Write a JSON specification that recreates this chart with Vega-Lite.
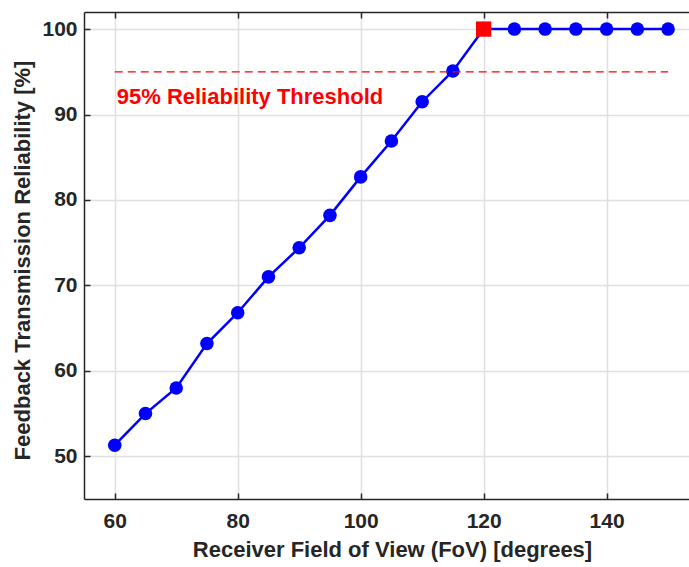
{
  "$schema": "https://vega.github.io/schema/vega-lite/v6.json",
  "width": 605,
  "height": 487,
  "autosize": "none",
  "padding": {"left": 84, "top": 12, "right": 0, "bottom": 68},
  "background": "white",
  "config": {
    "view": {"stroke": null},
    "font": "Liberation Sans"
  },
  "datasets": {
    "rel": [
      {"fov": 60, "reliability": 51.3},
      {"fov": 65, "reliability": 55.0},
      {"fov": 70, "reliability": 58.0},
      {"fov": 75, "reliability": 63.2},
      {"fov": 80, "reliability": 66.8},
      {"fov": 85, "reliability": 71.0},
      {"fov": 90, "reliability": 74.4},
      {"fov": 95, "reliability": 78.2},
      {"fov": 100, "reliability": 82.7},
      {"fov": 105, "reliability": 86.9},
      {"fov": 110, "reliability": 91.5},
      {"fov": 115, "reliability": 95.1},
      {"fov": 120, "reliability": 100},
      {"fov": 125, "reliability": 100},
      {"fov": 130, "reliability": 100},
      {"fov": 135, "reliability": 100},
      {"fov": 140, "reliability": 100},
      {"fov": 145, "reliability": 100},
      {"fov": 150, "reliability": 100}
    ],
    "thr": [
      {"fov_start": 60, "fov_end": 150, "threshold": 95, "label": "95% Reliability Threshold", "label_y": 92}
    ]
  },
  "layer": [
    {
      "data": {"name": "rel"},
      "mark": {"type": "line", "color": "#0000ff", "strokeWidth": 2.5},
      "encoding": {
        "x": {
          "field": "fov", "type": "quantitative",
          "scale": {"domain": [55, 153.4], "nice": false, "zero": false},
          "axis": {
            "orient": "bottom",
            "title": "Receiver Field of View (FoV) [degrees]",
            "values": [60, 80, 100, 120, 140],
            "grid": true, "gridColor": "#e0e0e0", "gridWidth": 1.5,
            "domain": true, "domainColor": "#262626", "domainWidth": 1.5,
            "ticks": true, "tickSize": -6, "tickColor": "#262626", "tickWidth": 1.5,
            "labelPadding": 17, "labelFontSize": 21, "labelFontWeight": "bold", "labelColor": "#262626",
            "titleFontSize": 22, "titleFontWeight": "bold", "titleColor": "#262626",
            "titlePadding": 8, "titleX": 308
          }
        },
        "y": {
          "field": "reliability", "type": "quantitative",
          "scale": {"domain": [45, 102], "nice": false, "zero": false},
          "axis": {
            "title": "Feedback Transmission Reliability [%]",
            "values": [50, 60, 70, 80, 90, 100],
            "grid": true, "gridColor": "#e0e0e0", "gridWidth": 1.5,
            "domain": true, "domainColor": "#262626", "domainWidth": 1.5,
            "ticks": true, "tickSize": -6, "tickColor": "#262626", "tickWidth": 1.5,
            "labelPadding": 13, "labelFontSize": 21, "labelFontWeight": "bold", "labelColor": "#262626",
            "titleFontSize": 22, "titleFontWeight": "bold", "titleColor": "#262626",
            "titlePadding": 7, "titleY": 248
          }
        }
      }
    },
    {
      "data": {"name": "rel"},
      "transform": [{"filter": "datum.fov != 120"}],
      "mark": {"type": "circle", "color": "#0000ff", "size": 184, "opacity": 1},
      "encoding": {
        "x": {"field": "fov", "type": "quantitative", "axis": null},
        "y": {"field": "reliability", "type": "quantitative"}
      }
    },
    {
      "data": {"name": "rel"},
      "transform": [{"filter": "datum.fov == 120"}],
      "mark": {"type": "square", "color": "#ff0000", "size": 234, "opacity": 1},
      "encoding": {
        "x": {"field": "fov", "type": "quantitative", "axis": null},
        "y": {"field": "reliability", "type": "quantitative"}
      }
    },
    {
      "data": {"name": "thr"},
      "mark": {"type": "rule", "color": "#ff0000", "strokeDash": [8, 5], "strokeWidth": 1.2},
      "encoding": {
        "x": {
          "field": "fov_start", "type": "quantitative",
          "axis": {
            "orient": "top", "title": null, "labels": false, "grid": false,
            "values": [60, 80, 100, 120, 140],
            "domain": true, "domainColor": "#262626", "domainWidth": 1.5,
            "ticks": true, "tickSize": -6, "tickColor": "#262626", "tickWidth": 1.5
          }
        },
        "x2": {"field": "fov_end"},
        "y": {"field": "threshold", "type": "quantitative"}
      }
    },
    {
      "data": {"name": "thr"},
      "mark": {"type": "text", "color": "#ff0000", "fontSize": 22, "fontWeight": "bold", "align": "left", "baseline": "middle", "dx": 2},
      "encoding": {
        "x": {"field": "fov_start", "type": "quantitative", "axis": null},
        "y": {"field": "label_y", "type": "quantitative"},
        "text": {"field": "label"}
      }
    }
  ],
  "resolve": {"axis": {"x": "independent"}}
}
